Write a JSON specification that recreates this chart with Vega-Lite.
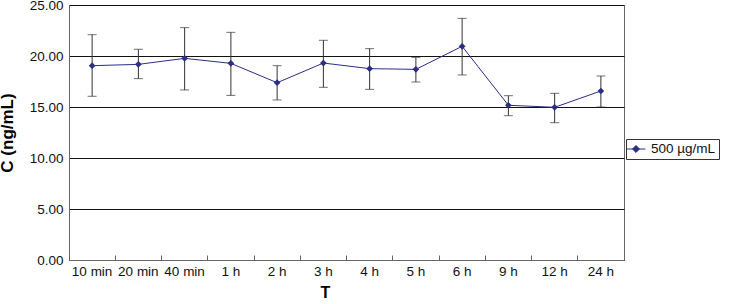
{
  "$schema": "https://vega.github.io/schema/vega-lite/v6.json",
  "width": 555,
  "height": 255,
  "padding": {"left": 69, "top": 5, "right": 105, "bottom": 44},
  "autosize": {"type": "none"},
  "background": "white",
  "config": {
    "font": "Liberation Sans",
    "view": {"stroke": "#666666", "strokeWidth": 1}
  },
  "data": {
    "values": [
      {"T": "10 min", "C": 19.05, "hi": 22.09, "lo": 16.05, "series": "500 µg/mL"},
      {"T": "20 min", "C": 19.18, "hi": 20.66, "lo": 17.78, "series": "500 µg/mL"},
      {"T": "40 min", "C": 19.77, "hi": 22.78, "lo": 16.67, "series": "500 µg/mL"},
      {"T": "1 h", "C": 19.28, "hi": 22.32, "lo": 16.14, "series": "500 µg/mL"},
      {"T": "2 h", "C": 17.38, "hi": 19.05, "lo": 15.69, "series": "500 µg/mL"},
      {"T": "3 h", "C": 19.31, "hi": 21.54, "lo": 16.93, "series": "500 µg/mL"},
      {"T": "4 h", "C": 18.76, "hi": 20.72, "lo": 16.73, "series": "500 µg/mL"},
      {"T": "5 h", "C": 18.69, "hi": 19.87, "lo": 17.45, "series": "500 µg/mL"},
      {"T": "6 h", "C": 20.95, "hi": 23.69, "lo": 18.14, "series": "500 µg/mL"},
      {"T": "9 h", "C": 15.17, "hi": 16.11, "lo": 14.15, "series": "500 µg/mL"},
      {"T": "12 h", "C": 14.97, "hi": 16.34, "lo": 13.46, "series": "500 µg/mL"},
      {"T": "24 h", "C": 16.57, "hi": 18.04, "lo": 15.0, "series": "500 µg/mL"}
    ]
  },
  "encoding": {
    "x": {
      "field": "T",
      "type": "nominal",
      "sort": null,
      "scale": {"paddingInner": 0, "paddingOuter": 0},
      "axis": {
        "title": "T",
        "titleFontSize": 16,
        "titleFontWeight": "bold",
        "titleColor": "black",
        "titleX": 256,
        "titleY": 40,
        "titleBaseline": "bottom",
        "labelAngle": 0,
        "labelFontSize": 13.5,
        "labelColor": "#111111",
        "labelPadding": 9,
        "bandPosition": 0,
        "tickSize": -5,
        "tickColor": "#666666",
        "domainColor": "#666666",
        "grid": false
      }
    }
  },
  "layer": [
    {
      "mark": {"type": "rule", "color": "#333333", "strokeWidth": 1},
      "encoding": {
        "y": {
          "field": "lo",
          "type": "quantitative",
          "scale": {"domain": [0, 25], "nice": false},
          "axis": {
            "title": "C (ng/mL)",
            "titleFontSize": 17,
            "titleFontWeight": "bold",
            "titleColor": "black",
            "titlePadding": 13,
            "values": [0, 5, 10, 15, 20, 25],
            "format": ".2f",
            "labelFontSize": 13.5,
            "labelColor": "#111111",
            "labelPadding": 6,
            "ticks": false,
            "domainColor": "#666666",
            "grid": true,
            "gridColor": "#111111",
            "gridOpacity": 1,
            "gridWidth": 1
          }
        },
        "y2": {"field": "hi"}
      }
    },
    {
      "mark": {"type": "tick", "color": "#333333", "thickness": 1, "size": 9, "orient": "horizontal"},
      "encoding": {"y": {"field": "hi", "type": "quantitative"}}
    },
    {
      "mark": {"type": "tick", "color": "#333333", "thickness": 1, "size": 9, "orient": "horizontal"},
      "encoding": {"y": {"field": "lo", "type": "quantitative"}}
    },
    {
      "mark": {
        "type": "line",
        "strokeWidth": 1,
        "point": {"shape": "diamond", "size": 45, "filled": true, "color": "#2B2E83"}
      },
      "encoding": {
        "y": {"field": "C", "type": "quantitative"},
        "color": {
          "field": "series",
          "type": "nominal",
          "scale": {"range": ["#2B2E83"]},
          "legend": {
            "title": null,
            "orient": "none",
            "legendX": 557,
            "legendY": 134,
            "strokeColor": "#333333",
            "padding": 3,
            "labelFontSize": 13.5,
            "labelColor": "#111111",
            "labelOffset": 8,
            "symbolType": "M-1.5,0H1.5M0,-0.55L0.55,0L0,0.55L-0.55,0Z",
            "symbolSize": 160,
            "symbolStrokeWidth": 1,
            "symbolFillColor": "#2B2E83",
            "symbolStrokeColor": "#2B2E83"
          }
        }
      }
    }
  ]
}
